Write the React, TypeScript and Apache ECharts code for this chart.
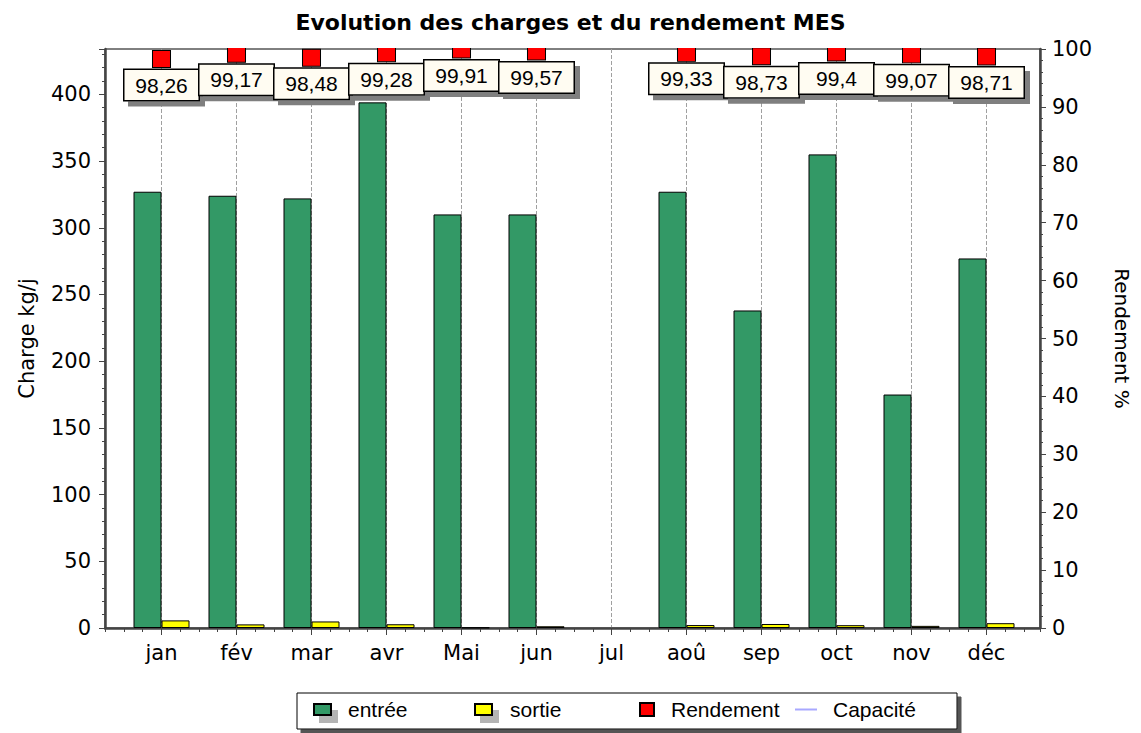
import React, { useEffect, useRef } from "react";
import * as echarts from "echarts";

const months = ["jan", "fév", "mar", "avr", "Mai", "jun", "jul", "aoû", "sep", "oct", "nov", "déc"];
const entree = [327, 324, 322, 394, 310, 310, null, 327, 238, 355, 175, 277];
const sortie = [5.7, 2.7, 4.9, 2.8, 0.3, 1.3, null, 2.2, 3.0, 2.1, 1.6, 3.6];
const rendement = [98.26, 99.17, 98.48, 99.28, 99.91, 99.57, null, 99.33, 98.73, 99.4, 99.07, 98.71];
const capacite: (number | null)[] = [];

const AX = "DejaVu Sans";
const LB = "Liberation Sans";

export default function App() {
  const ref = useRef<HTMLDivElement>(null);
  useEffect(() => {
    if (!ref.current) return;
    const chart = echarts.init(ref.current, null, { renderer: "svg" });
    const axisLineStyle = { color: "#444", width: 2.5 };
    const legendBase = {
      padding: 0,
      top: 699,
      itemHeight: 11,
      itemWidth: 17,
      textStyle: { fontFamily: LB, fontSize: 21, color: "#000" },
      selectedMode: false,
    };
    const hiddenAxis = {
      show: false,
      axisLine: { show: false, onZero: false },
      axisTick: { show: false },
      axisLabel: { show: false },
      splitLine: { show: false },
      minorTick: { show: false },
    };
    chart.setOption({
      animation: false,
      backgroundColor: "#fff",
      title: {
        text: "Evolution des charges et du rendement MES",
        left: "center",
        top: 6,
        textStyle: { fontFamily: AX, fontWeight: "bold", fontSize: 22, color: "#000" },
      },
      graphic: [
        {
          type: "rect",
          z: 1,
          shape: { x: 297, y: 693, width: 660, height: 36 },
          style: { fill: "#fff", stroke: "#000", lineWidth: 1, shadowColor: "#555", shadowOffsetX: 4, shadowOffsetY: 4, shadowBlur: 0 },
        },
        {
          type: "rect",
          z: 50,
          shape: { x: 108, y: 36, width: 928, height: 12 },
          style: { fill: "#fff" },
        },
      ],
      legend: [
        {
          ...legendBase,
          left: 313,
          data: [{ name: "entrée", icon: "rect", itemStyle: { shadowColor: "#b4b4b4", shadowOffsetX: 6, shadowOffsetY: 7, shadowBlur: 0 } }],
          textStyle: { ...legendBase.textStyle, padding: [0, 0, 0, 12] },
        },
        {
          ...legendBase,
          left: 474,
          data: [{ name: "sortie", icon: "rect", itemStyle: { shadowColor: "#b4b4b4", shadowOffsetX: 6, shadowOffsetY: 7, shadowBlur: 0 } }],
          textStyle: { ...legendBase.textStyle, padding: [0, 0, 0, 13] },
        },
        {
          ...legendBase,
          left: 639,
          itemWidth: 14,
          itemHeight: 13,
          data: [{ name: "Rendement", icon: "rect" }],
          textStyle: { ...legendBase.textStyle, padding: [0, 0, 0, 12] },
        },
        {
          ...legendBase,
          left: 795,
          itemWidth: 22,
          itemHeight: 2,
          data: [{ name: "Capacité", icon: "rect", itemStyle: { color: "#a8a8ff", borderWidth: 0 } }],
          textStyle: { ...legendBase.textStyle, padding: [0, 0, 0, 11] },
        },
      ],
      grid: [
        { left: 105, right: 101, top: 49, bottom: 105, show: true, borderColor: "#000", borderWidth: 1, backgroundColor: "#fff" },
        { left: 161.5, right: 154.5, top: 49, bottom: 105 },
      ],
      xAxis: [
        {
          type: "value",
          gridIndex: 0,
          min: -0.75,
          max: 11.71,
          interval: 0.25,
          axisLine: { show: true, onZero: false, lineStyle: axisLineStyle },
          axisTick: { show: true, length: 4, lineStyle: { color: "#444", width: 1 } },
          axisLabel: { show: false },
          splitLine: { show: false },
        },
        {
          type: "category",
          gridIndex: 1,
          data: months,
          boundaryGap: false,
          axisLine: { show: false, onZero: false },
          axisTick: { show: true, length: 7, lineStyle: { color: "#444", width: 1 } },
          axisLabel: { fontFamily: AX, fontSize: 21, color: "#000", margin: 14 },
          splitLine: { show: true, lineStyle: { type: "dashed", color: "#a0a0a0", width: 1 } },
        },
      ],
      yAxis: [
        {
          type: "value",
          gridIndex: 0,
          position: "left",
          min: 0,
          max: 434,
          interval: 50,
          name: "Charge kg/j",
          nameLocation: "middle",
          nameGap: 68,
          nameRotate: 90,
          nameTextStyle: { fontFamily: AX, fontSize: 21, color: "#000" },
          axisLine: { show: true, onZero: false, lineStyle: axisLineStyle },
          axisTick: { show: true, length: 6, lineStyle: { color: "#444" } },
          minorTick: { show: true, splitNumber: 5, length: 3, lineStyle: { color: "#444" } },
          axisLabel: {
            fontFamily: AX,
            fontSize: 21,
            color: "#000",
            margin: 14,
            formatter: (v: number) => (v % 50 === 0 ? String(v) : ""),
          },
          splitLine: { show: false },
        },
        {
          type: "value",
          gridIndex: 0,
          position: "right",
          min: 0,
          max: 100,
          interval: 10,
          name: "Rendement %",
          nameLocation: "middle",
          nameGap: 72,
          nameRotate: -90,
          nameTextStyle: { fontFamily: AX, fontSize: 20, color: "#000" },
          axisLine: { show: true, onZero: false, lineStyle: axisLineStyle },
          axisTick: { show: true, length: 6, lineStyle: { color: "#444" } },
          minorTick: { show: true, splitNumber: 5, length: 3, lineStyle: { color: "#444" } },
          axisLabel: { fontFamily: AX, fontSize: 21, color: "#000", margin: 12 },
          splitLine: { show: false },
        },
        { type: "value", gridIndex: 1, position: "left", min: 0, max: 434, ...hiddenAxis },
        { type: "value", gridIndex: 1, position: "right", min: 0, max: 100, ...hiddenAxis },
      ],
      series: [
        {
          name: "entrée",
          type: "bar",
          xAxisIndex: 1,
          yAxisIndex: 2,
          data: entree,
          barWidth: 28,
          barGap: "0%",
          clip: false,
          itemStyle: { color: "#339966", borderColor: "#000", borderWidth: 1 },
        },
        {
          name: "sortie",
          type: "bar",
          xAxisIndex: 1,
          yAxisIndex: 2,
          data: sortie,
          barWidth: 28,
          barGap: "0%",
          clip: false,
          itemStyle: { color: "#ffff00", borderColor: "#000", borderWidth: 1 },
        },
        {
          name: "Rendement",
          type: "scatter",
          xAxisIndex: 1,
          yAxisIndex: 3,
          data: rendement,
          symbol: "rect",
          symbolSize: [18, 17],
          clip: false,
          z: 3,
          itemStyle: { color: "#ff0000", borderColor: "#000", borderWidth: 1, opacity: 1 },
          label: {
            show: true,
            position: "bottom",
            distance: 2,
            formatter: (p: any) => String(Array.isArray(p.value) ? p.value[1] : p.value).replace(".", ","),
            fontFamily: LB,
            fontSize: 21,
            lineHeight: 24,
            color: "#000",
            backgroundColor: "#fffcf2",
            borderColor: "#000",
            borderWidth: 1.5,
            padding: [3, 0],
            width: 74,
            align: "center",
            shadowColor: "#7f7f7f",
            shadowOffsetX: 5,
            shadowOffsetY: 5,
            shadowBlur: 0,
          },
        },
        {
          name: "Capacité",
          type: "line",
          xAxisIndex: 1,
          yAxisIndex: 2,
          data: capacite,
          symbol: "none",
          color: "#a8a8ff",
          lineStyle: { color: "#a8a8ff", width: 1.5 },
        },
      ],
    });
    return () => chart.dispose();
  }, []);
  return <div ref={ref} style={{ position: "fixed", left: 0, top: 0, width: 1141, height: 733 }} />;
}
